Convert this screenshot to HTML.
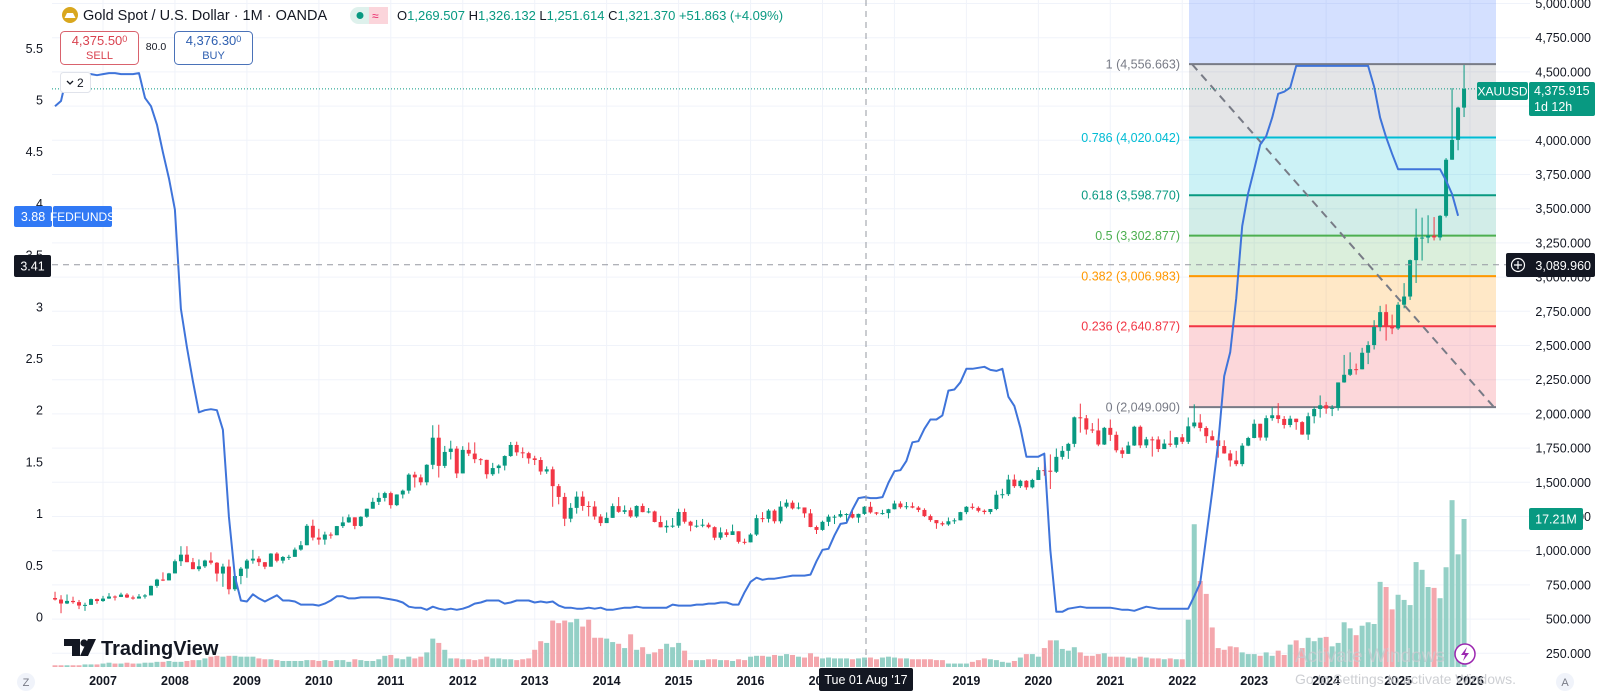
<!DOCTYPE html>
<html><head><meta charset="utf-8">
<style>
html,body{margin:0;padding:0;background:#fff;}
svg{display:block;font-family:"Liberation Sans",sans-serif;}
</style></head>
<body>
<svg id="chart" width="1600" height="694" viewBox="0 0 1600 694" xmlns="http://www.w3.org/2000/svg">
  <g id="grid"></g>
  <g id="fib"></g>
  <g id="vol"></g>
  <g id="candles"></g>
  <g id="fed"></g>
  <g id="overlay"></g>
  <g id="axes"></g>

  <!-- header -->
  <g>
    <circle cx="70" cy="15" r="8" fill="#d9a71e"/>
    <path d="M64.5 18 L67 13 L73 13 L75.5 18 Z" fill="#fff"/>
    <text x="83" y="20" font-size="14.5" fill="#131722">Gold Spot / U.S. Dollar · 1M · OANDA</text>
    <rect x="350" y="7" width="38" height="17" rx="8.5" fill="#def1ec"/>
    <rect x="369" y="7" width="19" height="17" rx="0" fill="#fbd5db"/>
    <circle cx="360" cy="15.5" r="3.5" fill="#089981"/>
    <text x="372" y="20" font-size="12" fill="#e91e63">≈</text>
    <text x="397" y="20" font-size="13" fill="#089981"><tspan fill="#131722">O</tspan>1,269.507 <tspan fill="#131722">H</tspan>1,326.132 <tspan fill="#131722">L</tspan>1,251.614 <tspan fill="#131722">C</tspan>1,321.370 +51.863 (+4.09%)</text>
  </g>
  <g>
    <rect x="60.5" y="31.5" width="78" height="33" rx="4" fill="#fff" stroke="#d9626d"/>
    <text x="99.5" y="45" font-size="13" fill="#d9424f" text-anchor="middle">4,375.50<tspan font-size="9" dy="-3">0</tspan></text>
    <text x="99.5" y="59" font-size="11" fill="#d9424f" text-anchor="middle">SELL</text>
  </g>
  <text x="156" y="50" font-size="10.5" fill="#131722" text-anchor="middle">80.0</text>
  <g>
    <rect x="174.5" y="31.5" width="78" height="33" rx="4" fill="#fff" stroke="#4a72b8"/>
    <text x="213.5" y="45" font-size="13" fill="#2e5fb0" text-anchor="middle">4,376.30<tspan font-size="9" dy="-3">0</tspan></text>
    <text x="213.5" y="59" font-size="11" fill="#2e5fb0" text-anchor="middle">BUY</text>
  </g>
  <g>
    <rect x="60.5" y="72.5" width="30" height="20" rx="3" fill="#fff" stroke="#e0e3eb"/>
    <path d="M67 81 L70 84 L73 81" fill="none" stroke="#131722" stroke-width="1.3"/>
    <text x="77" y="87" font-size="12" fill="#131722">2</text>
  </g>

  <!-- watermark -->
  <g>
    <path d="M64 639 H80 V656 H72 V646 H64 Z" fill="#131722"/>
    <circle cx="84" cy="643" r="3.6" fill="#131722"/>
    <path d="M88 639 H96 L88 656 H80 Z" fill="#131722"/>
    <text x="101" y="655" font-size="20" font-weight="bold" fill="#131722">TradingView</text>
  </g>

  <!-- bottom misc -->
  <circle cx="26" cy="682" r="9" fill="#f0f3fa"/>
  <text x="26" y="686" font-size="11" fill="#787b86" text-anchor="middle">Z</text>
  <circle cx="1565" cy="682" r="9" fill="#f0f3fa"/>
  <text x="1565" y="686" font-size="11" fill="#787b86" text-anchor="middle">A</text>
  <g>
    <circle cx="1465" cy="654" r="10" fill="#fff" stroke="#9c27b0" stroke-width="1.5"/>
    <path d="M1467 647 L1461 655 H1465 L1463 661 L1469 653 H1465 Z" fill="#9c27b0"/>
  </g>
  <text x="1295" y="662" font-size="19" fill="#c8cacf" opacity="0.8">Activate Windows</text>
  <text x="1295" y="684" font-size="14" fill="#c8cacf" opacity="0.9">Go to Settings to activate Windows.</text>
</svg>
<script>
// ---------- data ----------
const startMonth = "2006-05";
const closes = [643,614,633,624,599,604,646,632,
650,665,662,679,658,650,665,673,743,789,783,834,
923,971,916,865,886,928,912,833,884,718,815,869,
928,942,916,883,979,927,954,955,1008,1040,1182,1096,
1081,1118,1113,1180,1207,1244,1181,1248,1307,1357,1386,1421,
1333,1411,1439,1556,1536,1500,1628,1826,1620,1722,1746,1565,
1737,1710,1669,1664,1559,1604,1622,1692,1773,1719,1713,1675,
1663,1579,1595,1472,1393,1234,1313,1395,1327,1323,1250,1202,
1240,1326,1284,1296,1250,1327,1282,1287,1210,1171,1182,1183,
1283,1212,1183,1183,1190,1172,1095,1134,1115,1142,1065,1061,
1118,1238,1233,1293,1215,1322,1351,1309,1316,1273,1173,1152,
1211,1249,1249,1268,1268,1242,1269,1321,1280,1271,1275,1303,
1345,1318,1325,1315,1298,1253,1224,1201,1192,1215,1222,1282,
1321,1313,1292,1283,1305,1409,1413,1520,1472,1511,1463,1517,
1589,1585,1577,1686,1730,1781,1975,1968,1886,1879,1776,1898,
1847,1734,1708,1769,1906,1770,1814,1813,1743,1783,1774,1829,
1796,1909,1937,1897,1837,1807,1765,1711,1660,1633,1768,1824,
1928,1827,1969,1990,1963,1919,1965,1940,1849,1983,2036,2063,
2039,2044,2230,2286,2327,2326,2447,2503,2635,2744,2643,2625,
2798,2858,3124,3289,3289,3303,3290,3448,3858,4003,4239,4376];
const firstOpen = 654;
const highs = [700,675,680,664,640,620,650,650,
670,690,673,693,690,672,683,683,745,795,842,838,
936,1033,1033,947,936,934,988,917,905,935,830,881,
940,1006,960,917,982,989,961,970,1023,1070,1195,1227,
1160,1139,1134,1181,1249,1265,1236,1252,1307,1387,1424,1431,
1432,1412,1447,1566,1577,1557,1632,1917,1921,1766,1804,1764,
1764,1791,1792,1677,1665,1642,1631,1697,1795,1797,1755,1723,
1694,1684,1616,1615,1488,1423,1348,1433,1434,1361,1362,1267,
1280,1345,1392,1331,1315,1332,1345,1312,1293,1255,1222,1239,
1307,1308,1219,1225,1232,1205,1178,1170,1157,1191,1142,1088,
1128,1263,1282,1304,1303,1362,1375,1367,1352,1310,1304,1184,
1220,1264,1262,1295,1274,1297,1271,1326,1357,1283,1299,1306,
1366,1361,1356,1353,1326,1310,1265,1219,1214,1243,1237,1284,
1326,1346,1324,1302,1305,1439,1453,1555,1557,1519,1516,1526,
1611,1689,1704,1747,1765,1789,1981,2075,1992,1933,1966,1905,
1959,1871,1755,1797,1913,1916,1832,1834,1836,1814,1877,1831,
1853,1974,2070,1998,1910,1879,1814,1807,1735,1730,1786,1833,
1959,1928,1989,2049,2079,1984,1987,1949,1947,2009,2053,2135,
2088,2064,2223,2431,2450,2368,2483,2531,2685,2790,2801,2726,
2817,2956,3128,3500,3435,3452,3439,3453,3870,4381,4245,4550];
const lows = [636,543,610,612,573,560,605,612,
626,648,636,661,654,642,651,650,673,729,778,785,
840,888,917,872,850,874,899,775,736,681,705,755,
802,905,888,865,884,915,907,932,986,1000,1045,1075,
1044,1044,1088,1114,1166,1204,1157,1175,1240,1314,1334,1360,
1308,1326,1382,1417,1462,1478,1478,1596,1535,1604,1667,1531,
1577,1692,1640,1627,1527,1547,1564,1587,1686,1694,1677,1636,
1626,1555,1562,1321,1339,1180,1208,1271,1292,1251,1227,1180,
1221,1241,1277,1268,1240,1240,1281,1273,1207,1183,1131,1167,
1167,1198,1142,1168,1171,1163,1077,1080,1099,1139,1052,1046,
1061,1108,1208,1206,1199,1199,1310,1301,1302,1241,1172,1122,
1146,1180,1195,1242,1214,1236,1204,1262,1271,1260,1263,1236,
1302,1307,1303,1310,1282,1246,1211,1160,1180,1182,1196,1221,
1267,1301,1280,1266,1267,1296,1382,1400,1459,1458,1445,1455,
1517,1548,1451,1568,1666,1671,1757,1863,1849,1860,1764,1773,
1802,1718,1677,1721,1766,1750,1751,1688,1721,1746,1759,1753,
1780,1780,1895,1872,1787,1805,1680,1709,1615,1618,1617,1764,
1822,1805,1804,1950,1932,1893,1902,1884,1847,1810,1931,1973,
2001,1984,2024,2228,2277,2287,2353,2364,2471,2604,2536,2583,
2614,2772,2833,2957,3121,3248,3268,3268,3436,3947,3927,4170];
const volumesM = [.2,.2,.2,.2,.2,.3,.3,.3,
.4,.5,.4,.4,.5,.4,.4,.5,.5,.6,.6,.7,
.6,.6,.7,.8,.8,1.0,1.2,1.3,1.2,1.3,1.3,1.2,
1.2,1.2,1.0,.9,.9,.8,.7,.7,.7,.7,.8,.8,
.7,.8,.7,.8,.8,.6,.9,.8,.7,.7,.9,1.3,
1.4,1.0,.9,1.2,1.0,1.2,1.7,3.3,2.8,2.0,1.0,1.0,
.9,.9,.8,.9,1.2,1.0,1.0,.9,.9,.8,.9,1.0,
2.0,3.0,2.8,5.4,5.1,5.4,5.2,5.6,4.7,5.5,3.4,3.4,
3.3,2.9,2.7,2.2,3.8,2.0,2.3,1.5,1.7,2.1,2.7,2.3,
2.8,1.9,.8,.8,.8,.9,.9,.8,.8,.7,.9,.8,
1.2,1.3,1.3,1.2,1.4,1.3,1.5,1.4,1.2,1.1,1.6,1.2,
1.0,1.1,1.0,1.0,1.0,.9,1.0,1.1,1.1,.9,1.1,1.2,
1.1,1.0,1.0,.9,.9,.9,.9,.8,.8,.4,.4,.4,
.4,.6,.8,1.0,.9,.8,.6,.5,.7,1.1,1.5,1.5,
1.2,2.2,3.1,3.1,2.1,1.9,2.3,1.7,1.3,1.3,1.5,1.6,
1.2,1.2,1.2,1.1,1.0,1.2,1.1,1.0,1.0,.9,1.0,.9,
.9,5.5,16.6,10.0,8.5,4.6,2.2,2.0,2.4,2.3,1.7,1.5,
1.5,1.3,1.7,1.3,1.9,1.4,2.6,3.1,2.2,3.4,3.0,3.4,
3.5,2.4,2.8,5.2,4.5,3.7,4.8,5.2,5.0,9.9,9.3,6.7,
8.4,7.8,7.2,12.2,11.3,9.3,9.2,8.0,11.6,19.4,13.1,17.21];
const fedFunds = [4.94,4.99,5.24,5.25,5.25,5.25,5.25,5.24,
5.25,5.26,5.26,5.25,5.25,5.25,5.26,5.02,4.94,4.76,4.49,4.24,
3.94,2.98,2.61,2.28,1.98,2.00,2.01,2.00,1.81,0.97,0.39,0.16,
0.15,0.22,0.18,0.15,0.18,0.21,0.16,0.16,0.15,0.12,0.12,0.12,
0.11,0.13,0.16,0.20,0.20,0.18,0.18,0.19,0.19,0.19,0.19,0.18,
0.17,0.16,0.14,0.10,0.09,0.09,0.07,0.10,0.08,0.07,0.08,0.07,
0.08,0.10,0.13,0.14,0.16,0.16,0.16,0.13,0.14,0.16,0.16,0.16,
0.14,0.15,0.14,0.15,0.11,0.09,0.09,0.08,0.08,0.09,0.08,0.09,
0.07,0.07,0.08,0.09,0.09,0.10,0.09,0.09,0.09,0.09,0.09,0.12,
0.11,0.11,0.11,0.12,0.12,0.13,0.13,0.14,0.14,0.12,0.12,0.24,
0.34,0.38,0.36,0.37,0.37,0.38,0.39,0.40,0.40,0.40,0.41,0.54,
0.65,0.66,0.79,0.90,0.91,1.04,1.15,1.16,1.15,1.15,1.16,1.30,
1.41,1.42,1.51,1.69,1.70,1.82,1.91,1.91,1.95,2.19,2.20,2.27,
2.40,2.40,2.41,2.42,2.39,2.38,2.40,2.13,2.04,1.83,1.55,1.55,
1.55,1.58,0.65,0.05,0.05,0.08,0.09,0.10,0.09,0.09,0.09,0.09,
0.09,0.08,0.07,0.07,0.06,0.08,0.10,0.09,0.08,0.08,0.08,0.08,
0.08,0.08,0.20,0.33,0.77,1.21,1.68,2.33,2.56,3.08,3.78,4.10,
4.33,4.57,4.65,4.83,5.06,5.08,5.12,5.33,5.33,5.33,5.33,5.33,
5.33,5.33,5.33,5.33,5.33,5.33,5.33,5.33,5.13,4.83,4.64,4.48,
4.33,4.33,4.33,4.33,4.33,4.33,4.33,4.33,4.22,4.09,3.88];
const priceTicks = [5000,4750,4500,4250,4000,3750,3500,3250,3000,2750,2500,2250,2000,1750,1500,1250,1000,750,500,250];
const fedTicks = [0,0.5,1,1.5,2,2.5,3,3.5,4,4.5,5,5.5];
const yearLabels = [2007,2008,2009,2010,2011,2012,2013,2014,2015,2016,2017,2018,2019,2020,2021,2022,2023,2024,2025,2026];
const fibRatios = [1,0.786,0.618,0.5,0.382,0.236,0];
const fibHigh = 4556.663, fibLow = 2049.090;
const lastPrice = 4375.915, crossPrice = 3089.960, crossFed = 3.41;

// ---------- scales ----------
const NS = "http://www.w3.org/2000/svg";
const monthW = 71.95/12;
function xMonth(i){ return 103 + (i - 8) * monthW; }
function xYear(y){ return 103 + (y - 2007) * 71.95; }
function yPrice(p){ return 3.5 + (5000 - p) / 250 * 34.2; }
function yFed(v){ return 617 - v * 103.4; }
function yVol(v){ return 667 - v * 8.6; }
function mk(tag, attrs, parent){ const e=document.createElementNS(NS,tag); for(const k in attrs) e.setAttribute(k,attrs[k]); parent.appendChild(e); return e; }
const plotL = 52, plotR = 1530;

// ---------- grid ----------
const grid = document.getElementById('grid');
priceTicks.forEach(p=>{ const l=mk('line',{x1:plotL,x2:plotR,y1:yPrice(p),y2:yPrice(p),stroke:'#f0f3fa','stroke-width':1},grid);

 });
yearLabels.forEach(y=>{ const l=mk('line',{x1:xYear(y),x2:xYear(y),y1:0,y2:668,stroke:'#f0f3fa','stroke-width':1},grid);

 });

// ---------- fib ----------
const fib = document.getElementById('fib');
const fibL = 1189, fibR = 1496;
const fibLineColors = ['#787b86','#00bcd4','#089981','#4caf50','#ff9800','#f23645','#787b86'];
const fibFill = ['rgba(120,123,134,0.2)','rgba(0,188,212,0.2)','rgba(8,153,129,0.18)','rgba(76,175,80,0.2)','rgba(255,152,0,0.22)','rgba(242,54,69,0.2)'];
function fibPrice(r){ return fibLow + (fibHigh - fibLow) * r; }
const topBand = mk('rect',{x:fibL,y:0,width:fibR-fibL,height:yPrice(fibHigh),fill:'rgba(41,98,255,0.2)'},fib);


for(let k=0;k<fibRatios.length-1;k++){
  const y1=yPrice(fibPrice(fibRatios[k])), y2=yPrice(fibPrice(fibRatios[k+1]));
  const r=mk('rect',{x:fibL,y:y1,width:fibR-fibL,height:y2-y1,fill:fibFill[k]},fib);
  
  
}
fibRatios.forEach((r,k)=>{
  const p=fibPrice(r), y=yPrice(p);
  const l=mk('line',{x1:fibL,x2:fibR,y1:y,y2:y,stroke:fibLineColors[k],'stroke-width':2},fib);
  
  
  const t=mk('text',{x:1180,y:y+4.5,'font-size':12.5,fill:fibLineColors[k],'text-anchor':'end'},fib);
  t.textContent = r + ' (' + p.toLocaleString('en-US',{minimumFractionDigits:3,maximumFractionDigits:3}) + ')';
  
  
});
const diag = mk('line',{x1:1192,y1:yPrice(fibHigh),x2:1494,y2:yPrice(fibLow),stroke:'#787b86','stroke-width':2,'stroke-dasharray':'8 6'},fib);



// ---------- volume & candles ----------
const volG = document.getElementById('vol'), cG = document.getElementById('candles');
closes.forEach((c,i)=>{
  const o = i===0 ? firstOpen : closes[i-1];
  const up = c >= o;
  const x = xMonth(i);
  const h = Math.max(highs[i], o, c), lo = Math.min(lows[i], o, c);
  const vb = mk('rect',{x:x-2.5,y:yVol(volumesM[i]),width:5,height:667-yVol(volumesM[i]),fill: up?'#94d0c6':'#f4a7ad'},volG);
  
  
  const col = up ? '#089981' : '#f23645';
  const w = mk('line',{x1:x,x2:x,y1:yPrice(h),y2:yPrice(lo),stroke:col,'stroke-width':1},cG);
  
  
  const yt = yPrice(Math.max(o,c)), yb = yPrice(Math.min(o,c));
  const b = mk('rect',{x:x-2,y:yt,width:4,height:Math.max(1,yb-yt),fill:col},cG);
  
  
});

// ---------- fedfunds ----------
const fedG = document.getElementById('fed');
const pts = fedFunds.map((v,i)=> xMonth(i).toFixed(1)+','+yFed(v).toFixed(1)).join(' ');
const pl = mk('polyline',{points:pts,fill:'none',stroke:'#3f74da','stroke-width':2,'stroke-linejoin':'round'},fedG);



// ---------- overlay lines ----------
const ov = document.getElementById('overlay');
const lp = mk('line',{x1:plotL,x2:1477,y1:yPrice(lastPrice),y2:yPrice(lastPrice),stroke:'#089981','stroke-width':1,'stroke-dasharray':'1 2'},ov);


const ch = mk('line',{x1:plotL,x2:1508,y1:yPrice(crossPrice),y2:yPrice(crossPrice),stroke:'#9598a1','stroke-width':1,'stroke-dasharray':'6 5'},ov);


const cv = mk('line',{x1:866,x2:866,y1:0,y2:668,stroke:'#9598a1','stroke-width':1,'stroke-dasharray':'6 5'},ov);



// ---------- axes ----------
const ax = document.getElementById('axes');
priceTicks.forEach(p=>{
  const t=mk('text',{x:1591,y:yPrice(p)+4.5,'font-size':12.5,fill:'#131722','text-anchor':'end'},ax);
  t.textContent = p.toLocaleString('en-US')+'.000';
  
  
});
fedTicks.forEach(v=>{
  const t=mk('text',{x:43,y:yFed(v)+4.5,'font-size':12.5,fill:'#131722','text-anchor':'end'},ax);
  t.textContent = String(v);
  
  
});
yearLabels.forEach(y=>{
  const t=mk('text',{x:xYear(y),y:685,'font-size':12.5,'font-weight':'bold',fill:'#131722','text-anchor':'middle'},ax);
  t.textContent = String(y);
  
  
});

// tags
function tag(x,y,w,h,fill,txt,name,size){
  const g=mk('g',{},ax);
  
  
  mk('rect',{x:x,y:y,width:w,height:h,fill:fill,rx:2},g);
  const t=mk('text',{x:x+w/2,y:y+h/2+4.5,'font-size':size||12.5,fill:'#fff','text-anchor':'middle'},g);
  t.textContent=txt;
  return g;
}
tag(819,668,94,23,'#131722',"Tue 01 Aug '17",'crosshair-date-label',12.5);
tag(14,206,38,21,'#3179f5',fedFunds[fedFunds.length-1].toFixed(2),'fedfunds-value-tag',12.5);
tag(53,206,59,21,'#3179f5','FEDFUNDS','fedfunds-name-tag',12);
tag(14,255,37,22,'#131722',crossFed.toFixed(2),'crosshair-fedfunds-tag',12.5);
tag(1477,82,51,18,'#089981','XAUUSD','symbol-tag',12);
const pt=mk('g',{},ax);


mk('rect',{x:1529,y:82,width:66,height:34,fill:'#089981',rx:2},pt);
const pt1=mk('text',{x:1534,y:95,'font-size':12.5,fill:'#fff'},pt); pt1.textContent=lastPrice.toLocaleString('en-US',{minimumFractionDigits:3});
const pt2=mk('text',{x:1534,y:111,'font-size':12.5,fill:'#fff'},pt); pt2.textContent='1d 12h';
tag(1529,508,54,22,'#089981',volumesM[volumesM.length-1]+'M','volume-value-tag',12.5);
const cp=mk('g',{},ax);


mk('rect',{x:1506,y:253,width:89,height:24,fill:'#131722',rx:2},cp);
mk('circle',{cx:1518,cy:265,r:6.5,fill:'none',stroke:'#fff','stroke-width':1.2},cp);
mk('path',{d:'M1518 261 V269 M1514 265 H1522',stroke:'#fff','stroke-width':1.2},cp);
const cpt=mk('text',{x:1591,y:270,'font-size':12.5,fill:'#fff','text-anchor':'end'},cp);
cpt.textContent=crossPrice.toLocaleString('en-US',{minimumFractionDigits:3});
</script>
</body></html>
